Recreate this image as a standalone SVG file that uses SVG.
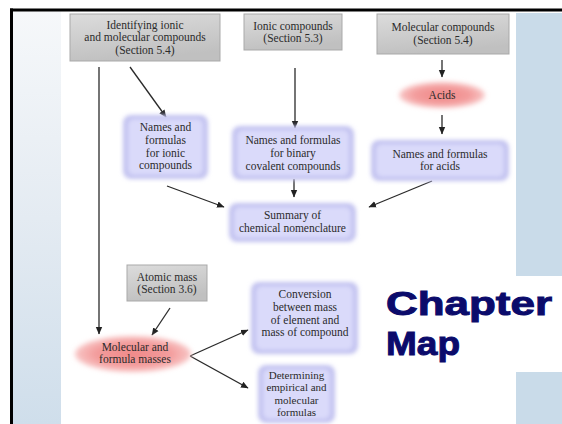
<svg xmlns="http://www.w3.org/2000/svg" width="562" height="424" viewBox="0 0 562 424">
<defs>
<linearGradient id="leftStrip" x1="0" y1="0" x2="0" y2="1">
<stop offset="0" stop-color="#f6f8fa"/>
<stop offset="0.5" stop-color="#e4ebf2"/>
<stop offset="1" stop-color="#cfdeeb"/>
</linearGradient>
<linearGradient id="grayFill" x1="0" y1="0" x2="0.3" y2="1">
<stop offset="0" stop-color="#dcdcdc"/>
<stop offset="1" stop-color="#c0c0c0"/>
</linearGradient>
<radialGradient id="pinkFill" cx="0.5" cy="0.5" r="0.5">
<stop offset="0" stop-color="#f08888"/>
<stop offset="0.65" stop-color="#f39c9c"/>
<stop offset="1" stop-color="#f8c6c6"/>
</radialGradient>
<filter id="soft" x="-20%" y="-20%" width="140%" height="140%">
<feGaussianBlur stdDeviation="2.2"/>
</filter>
<filter id="softer" x="-20%" y="-30%" width="140%" height="160%">
<feGaussianBlur stdDeviation="2.5"/>
</filter>
<marker id="ah" markerWidth="8" markerHeight="8" refX="7" refY="4" orient="auto" markerUnits="userSpaceOnUse">
<path d="M0,0.8 L7.5,4 L0,7.2 Z" fill="#222"/>
</marker>
</defs>
<style>
.t{font-family:"Liberation Serif","Times New Roman",serif;font-size:11.5px;fill:#2b2b2b;text-anchor:middle}
.s{font-size:11px}
.gray{fill:url(#grayFill);stroke:#a9a9a9;stroke-width:1}
.blueEdge{fill:#c3c3f0;filter:url(#soft)}
.blueIn{fill:#dadafa;filter:url(#soft)}
.pink{fill:url(#pinkFill);filter:url(#softer)}
.c{stroke:#2a2a2a;stroke-width:1.3;fill:none;marker-end:url(#ah)}
.big{font-family:"Liberation Sans",Arial,sans-serif;font-weight:bold;font-size:34px;fill:#0b0b6b;stroke:#0b0b6b;stroke-width:1}
</style>
<!-- frame -->
<rect x="0" y="0" width="562" height="424" fill="#ffffff"/>
<rect x="13" y="11" width="48" height="413" fill="url(#leftStrip)"/>
<rect x="516" y="13" width="46" height="263" fill="#c9dbe9"/>
<rect x="516" y="372" width="46" height="52" fill="#c9dbe9"/>
<rect x="10" y="8.5" width="552" height="3" fill="#000"/>
<rect x="10" y="8.5" width="3" height="415.5" fill="#000"/>

<g id="connectors">
<line class="c" x1="99" y1="67" x2="99" y2="334"/>
<line class="c" x1="130" y1="67" x2="166" y2="117"/>
<line class="c" x1="295" y1="68" x2="295" y2="128"/>
<line class="c" x1="442" y1="60" x2="442" y2="77"/>
<line class="c" x1="442" y1="115" x2="442" y2="134"/>
<line class="c" x1="167" y1="186" x2="224" y2="207"/>
<line class="c" x1="294" y1="179" x2="294" y2="197"/>
<line class="c" x1="432" y1="181" x2="369" y2="207"/>
<line class="c" x1="170" y1="308" x2="152" y2="335"/>
<line class="c" x1="190" y1="356" x2="248" y2="330"/>
<line class="c" x1="190" y1="356" x2="248" y2="388"/>
</g>

<g id="n-identifying">
<rect class="gray" x="70" y="14" width="150" height="47"/>
<text class="t" x="145" y="28.5">Identifying ionic</text>
<text class="t" x="145" y="41.3">and molecular compounds</text>
<text class="t" x="145" y="54.1">(Section 5.4)</text>
</g>
<g id="n-ionic">
<rect class="gray" x="244" y="14" width="98" height="36"/>
<text class="t" x="293" y="29.5">Ionic compounds</text>
<text class="t" x="293" y="42.3">(Section 5.3)</text>
</g>
<g id="n-molecular">
<rect class="gray" x="377" y="14" width="132" height="40"/>
<text class="t" x="443" y="31">Molecular compounds</text>
<text class="t" x="443" y="44">(Section 5.4)</text>
</g>
<g id="n-acids">
<ellipse class="pink" cx="442" cy="95" rx="43" ry="13"/>
<text class="t" x="442" y="99">Acids</text>
</g>
<g id="n-names-ionic">
<rect class="blueEdge" x="123" y="115" width="85" height="64" rx="8"/>
<rect class="blueIn" x="128" y="119" width="75" height="56" rx="6"/>
<text class="t" x="165.5" y="131">Names and</text>
<text class="t" x="165.5" y="143.8">formulas</text>
<text class="t" x="165.5" y="156.6">for ionic</text>
<text class="t" x="165.5" y="169.4">compounds</text>
</g>
<g id="n-names-binary">
<rect class="blueEdge" x="232" y="126" width="122" height="54" rx="8"/>
<rect class="blueIn" x="237" y="130" width="112" height="46" rx="6"/>
<text class="t" x="293" y="144">Names and formulas</text>
<text class="t" x="293" y="156.8">for binary</text>
<text class="t" x="293" y="169.6">covalent compounds</text>
</g>
<g id="n-names-acids">
<rect class="blueEdge" x="371" y="140" width="138" height="41" rx="8"/>
<rect class="blueIn" x="376" y="144" width="128" height="33" rx="6"/>
<text class="t" x="440" y="157.5">Names and formulas</text>
<text class="t" x="440" y="170.3">for acids</text>
</g>
<g id="n-summary">
<rect class="blueEdge" x="229" y="203" width="127" height="39" rx="8"/>
<rect class="blueIn" x="234" y="207" width="117" height="31" rx="6"/>
<text class="t" x="292.5" y="219">Summary of</text>
<text class="t" x="292.5" y="231.8">chemical nomenclature</text>
</g>
<g id="n-atomic">
<rect class="gray" x="127" y="265" width="80" height="36"/>
<text class="t" x="167" y="280.5">Atomic mass</text>
<text class="t" x="167" y="293.3">(Section 3.6)</text>
</g>
<g id="n-molecular-masses">
<ellipse class="pink" cx="133" cy="354" rx="58" ry="18"/>
<text class="t" x="135" y="350.5">Molecular and</text>
<text class="t" x="135" y="363.3">formula masses</text>
</g>
<g id="n-conversion">
<rect class="blueEdge" x="251" y="282" width="107" height="72" rx="8"/>
<rect class="blueIn" x="256" y="286" width="97" height="64" rx="6"/>
<text class="t" x="305" y="298">Conversion</text>
<text class="t" x="305" y="310.8">between mass</text>
<text class="t" x="305" y="323.6">of element and</text>
<text class="t" x="305" y="336.4">mass of compound</text>
</g>
<g id="n-determining">
<rect class="blueEdge" x="258" y="365" width="77" height="58" rx="8"/>
<rect class="blueIn" x="263" y="369" width="67" height="50" rx="6"/>
<text class="t s" x="296.5" y="379">Determining</text>
<text class="t s" x="296.5" y="391.3">empirical and</text>
<text class="t s" x="296.5" y="403.6">molecular</text>
<text class="t s" x="296.5" y="415.9">formulas</text>
</g>
<g id="title">
<text class="big" x="386" y="315" textLength="166" lengthAdjust="spacingAndGlyphs">Chapter</text>
<text class="big" x="386" y="355" textLength="74" lengthAdjust="spacingAndGlyphs">Map</text>
</g>
</svg>
